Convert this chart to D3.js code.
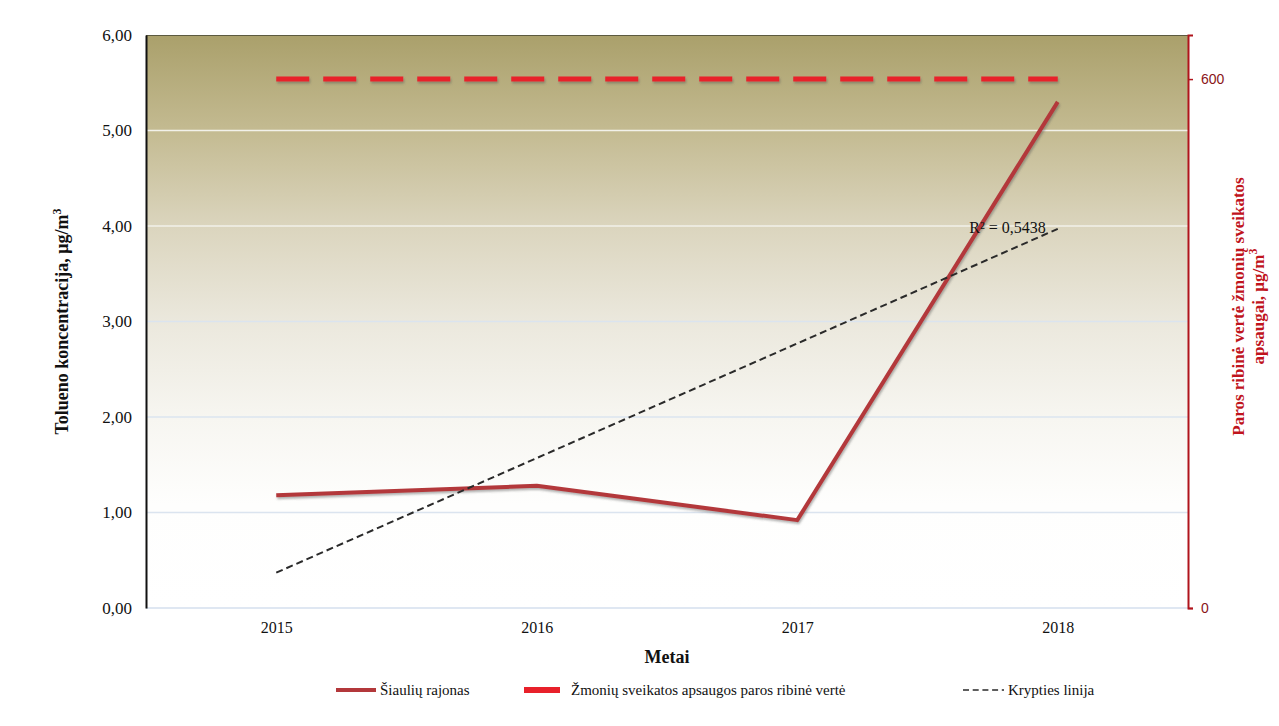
<!DOCTYPE html>
<html>
<head>
<meta charset="utf-8">
<script src="https://cdn.jsdelivr.net/npm/d3@7"></script>
<style>
  html, body { margin: 0; padding: 0; background: #fff; }
  svg { display: block; }
</style>
</head>
<body>
<svg id="chart" width="1279" height="726"></svg>
<script>
// Toluene concentration in Šiauliai district, yearly averages
const years = ["2015", "2016", "2017", "2018"];
const concentration = [1.18, 1.28, 0.92, 5.30];
// Daily limit value for human health protection (right axis)
const limitValue = [600, 600, 600, 600];
const leftTicks = [0, 1, 2, 3, 4, 5, 6];
const rightTicks = [0, 600];
const r2Label = "R² = 0,5438";

const SERIF = "'Liberation Serif', 'Times New Roman', serif";
const SANS = "'Liberation Sans', Arial, sans-serif";

const svg = d3.select("#chart");
const margin = { left: 146, right: 91, top: 35, bottom: 118 };
const W = 1279, H = 726;
const plotW = W - margin.left - margin.right;
const plotH = H - margin.top - margin.bottom;

const defs = svg.append("defs");
const grad = defs.append("linearGradient").attr("id", "bg").attr("x1", 0).attr("y1", 0).attr("x2", 0).attr("y2", 1);
[[0, "#aaa06b"], [0.17, "#c4bb92"], [0.335, "#dbd5be"], [0.5, "#ebe8dd"], [0.67, "#f7f6f1"], [0.82, "#fefefd"], [1, "#ffffff"]]
  .forEach(([o, c]) => grad.append("stop").attr("offset", o).attr("stop-color", c));
const shadow = defs.append("filter").attr("id", "shadow")
  .attr("filterUnits", "userSpaceOnUse").attr("x", 0).attr("y", 0).attr("width", W).attr("height", H);
shadow.append("feDropShadow").attr("dx", 1).attr("dy", 2).attr("stdDeviation", 1)
  .attr("flood-color", "#555").attr("flood-opacity", 0.45);

const g = svg.append("g").attr("transform", `translate(${margin.left},${margin.top})`);

const x = d3.scalePoint().domain(years).range([0, plotW]).padding(0.5);
const y = d3.scaleLinear().domain([0, 6]).range([plotH, 0]);
const yR = d3.scaleLinear().domain([0, 650]).range([plotH, 0]);

// plot background
g.append("rect").attr("width", plotW).attr("height", plotH).attr("fill", "url(#bg)");
g.append("line").attr("x1", 0).attr("x2", plotW).attr("y1", 0.5).attr("y2", 0.5)
  .attr("stroke", "#5c5a40").attr("stroke-width", 1);

// gridlines
g.append("g").selectAll("line").data(leftTicks.filter(d => d > 0 && d < 6)).join("line")
  .attr("x1", 0).attr("x2", plotW)
  .attr("y1", d => y(d)).attr("y2", d => y(d))
  .attr("stroke", d => d >= 4 ? "#f2f1ea" : "#dbe4ef").attr("stroke-width", 1.5);
g.append("line").attr("x1", 0).attr("x2", plotW).attr("y1", y(0)).attr("y2", y(0))
  .attr("stroke", "#d5dfee").attr("stroke-width", 1.5);

// left axis
const yAxis = d3.axisLeft(y).tickValues(leftTicks).tickSize(0).tickPadding(14)
  .tickFormat(d => d3.format(".2f")(d).replace(".", ","));
const ya = g.append("g").call(yAxis);
ya.attr("font-family", SERIF);
ya.select(".domain").attr("stroke", "#111").attr("stroke-width", 2);
ya.selectAll("text").style("font-family", SERIF).attr("font-size", 17).attr("fill", "#111");

// right axis
const yRAxis = d3.axisRight(yR).tickValues(rightTicks).tickSize(5).tickPadding(8).tickFormat(d3.format("d"));
const yra = g.append("g").attr("transform", `translate(${plotW},0)`).call(yRAxis);
yra.select(".domain").attr("stroke", "#b0141c").attr("stroke-width", 2);
yra.selectAll(".tick line").attr("stroke", "#b0141c").attr("stroke-width", 1.5);
yra.selectAll("text").style("font-family", SANS).attr("font-size", 14).attr("fill", "#8a1518");

// bottom axis labels
const xAxis = d3.axisBottom(x).tickSize(0).tickPadding(14);
const xa = g.append("g").attr("transform", `translate(0,${plotH})`).call(xAxis);
xa.select(".domain").remove();
xa.selectAll("text").style("font-family", SERIF).attr("font-size", 16).attr("fill", "#111");

// limit value (right axis)
const limitLine = d3.line().x((d, i) => x(years[i])).y(d => yR(d));
g.append("path").datum(limitValue).attr("d", limitLine)
  .attr("fill", "none").attr("stroke", "#e8202a").attr("stroke-width", 5)
  .attr("stroke-dasharray", "33,14").attr("filter", "url(#shadow)");

// linear trend over year index
const xs = concentration.map((_, i) => i + 1);
const mx = d3.mean(xs), my = d3.mean(concentration);
const slope = d3.sum(xs, (xi, i) => (xi - mx) * (concentration[i] - my)) / d3.sum(xs, xi => (xi - mx) ** 2);
const intercept = my - slope * mx;
const trend = xs.map(xi => intercept + slope * xi);

// measured concentration
const line = d3.line().x((d, i) => x(years[i])).y(d => y(d));
g.append("path").datum(concentration).attr("d", line)
  .attr("fill", "none").attr("stroke", "#b3383b").attr("stroke-width", 4)
  .attr("stroke-linejoin", "round").attr("filter", "url(#shadow)");

g.append("path").datum(trend).attr("d", line)
  .attr("fill", "none").attr("stroke", "#2a2a2a").attr("stroke-width", 2)
  .attr("stroke-dasharray", "7,4");

g.append("text").attr("x", x("2018") - 12).attr("y", y(trend[3]) + 4)
  .attr("text-anchor", "end").style("font-family", SERIF).attr("font-size", 16)
  .attr("fill", "#111").text(r2Label);

// axis titles
svg.append("text").attr("transform", `translate(68,${margin.top + plotH / 2}) rotate(-90)`)
  .attr("text-anchor", "middle").style("font-family", SERIF).attr("font-weight", "bold")
  .attr("font-size", 18).attr("fill", "#111")
  .html('Tolueno koncentracija, μg/m<tspan dy="-7" font-size="12">3</tspan>');

const rt = svg.append("text").attr("transform", `translate(1244,${margin.top + plotH / 2 - 15}) rotate(-90)`)
  .attr("text-anchor", "middle").style("font-family", SERIF).attr("font-weight", "bold")
  .attr("font-size", 17).attr("fill", "#c0141c");
rt.append("tspan").attr("x", 0).attr("dy", 0).text("Paros ribinė vertė žmonių sveikatos");
rt.append("tspan").attr("x", 0).attr("dy", 20).text("apsaugai, μg/m");
rt.append("tspan").attr("dy", -7).attr("font-size", 12).text("3");

svg.append("text").attr("x", margin.left + plotW / 2).attr("y", 663)
  .attr("text-anchor", "middle").style("font-family", SERIF).attr("font-weight", "bold")
  .attr("font-size", 18).attr("fill", "#111").text("Metai");

// legend
const legendItems = [
  { label: "Šiaulių rajonas", x0: 336, len: 40, tx: 380, stroke: "#b3383b", w: 4, dash: null },
  { label: "Žmonių sveikatos apsaugos paros ribinė vertė", x0: 524, len: 36, tx: 571, stroke: "#e8202a", w: 6, dash: null },
  { label: "Krypties linija", x0: 963, len: 41, tx: 1008, stroke: "#2a2a2a", w: 1.5, dash: "6,3.7" }
];
const lg = svg.append("g");
legendItems.forEach(it => {
  lg.append("line").attr("x1", it.x0).attr("x2", it.x0 + it.len).attr("y1", 690).attr("y2", 690)
    .attr("stroke", it.stroke).attr("stroke-width", it.w).attr("stroke-dasharray", it.dash);
  lg.append("text").attr("x", it.tx).attr("y", 695).style("font-family", SERIF)
    .attr("font-size", 15).attr("fill", "#111").text(it.label);
});
</script>
</body>
</html>
